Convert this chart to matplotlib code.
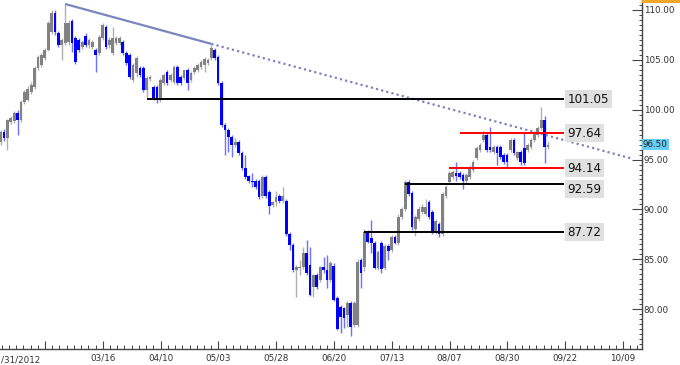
import numpy as np
import matplotlib.pyplot as plt
from matplotlib.patches import Rectangle
from matplotlib.transforms import blended_transform_factory

# daily candles, oldest first
opens = [96.8, 97.8, 97.2, 98.8, 98.9, 99.7, 99.0, 100.8, 101.0, 101.8, 102.3, 104.2, 104.5, 105.2, 106.0, 107.8, 109.7, 107.7, 106.5, 106.7,
         106.8, 108.9, 107.2, 107.0, 106.3, 107.4, 106.5, 106.3, 106.0, 105.7, 107.2, 108.3, 106.5, 105.7, 106.7, 106.7, 106.8, 105.7, 105.5, 103.0,
         103.7, 104.2, 104.2, 102.0, 103.1, 102.3, 102.3, 101.0, 102.7, 103.8, 103.0, 102.8, 104.3, 103.3, 103.2, 104.0, 103.0, 103.8, 104.0, 104.3,
         104.5, 104.7, 105.2, 106.0, 105.3, 102.7, 98.5, 98.0, 97.3, 96.5, 96.8, 95.7, 94.2, 93.3, 92.8, 92.8, 92.8, 91.3, 93.2, 91.7,
         90.4, 90.7, 91.3, 90.8, 90.8, 87.5, 86.4, 83.9, 84.1, 84.2, 85.6, 84.4, 82.2, 83.4, 82.9, 84.2, 83.9, 82.9, 84.3, 81.1,
         80.2, 80.1, 79.4, 80.6, 78.4, 78.4, 84.9, 84.2, 87.7, 87.1, 86.6, 84.1, 86.6, 84.1, 86.3, 85.9, 87.2, 86.6, 89.2, 90.0,
         92.7, 91.6, 88.0, 89.0, 89.7, 89.5, 90.7, 89.7, 87.8, 88.5, 87.5, 91.3, 92.7, 93.2, 93.7, 93.7, 93.5, 92.8, 93.2, 94.0,
         95.2, 96.0, 97.0, 97.5, 96.3, 95.8, 96.3, 96.3, 95.5, 95.5, 96.0, 97.0, 95.2, 95.8, 96.2, 96.0, 96.3, 97.0, 97.5, 98.2,
         99.0, 96.3]
highs = [98.0, 98.1, 99.1, 99.4, 99.9, 100.0, 101.0, 102.0, 102.4, 102.8, 104.4, 105.5, 105.7, 106.2, 108.9, 110.0, 110.0, 107.9, 107.2, 110.6,
         109.0, 109.1, 107.4, 107.2, 107.0, 107.7, 107.2, 107.0, 106.2, 107.5, 108.7, 108.5, 107.3, 108.3, 107.4, 107.4, 107.0, 105.9, 105.7, 104.7,
         105.4, 104.4, 104.4, 103.4, 103.5, 102.5, 102.5, 103.2, 103.7, 104.0, 103.7, 104.5, 104.5, 103.5, 104.0, 104.2, 103.9, 104.4, 104.7, 105.0,
         105.3, 105.2, 106.5, 106.2, 105.5, 102.9, 98.7, 98.2, 97.5, 97.2, 97.0, 95.9, 95.5, 93.5, 93.7, 93.0, 93.0, 93.4, 93.4, 91.9,
         90.8, 91.8, 91.5, 92.2, 91.0, 87.7, 86.6, 84.4, 84.9, 86.2, 86.9, 86.2, 83.5, 83.6, 84.3, 85.2, 85.4, 84.8, 84.6, 81.3,
         80.4, 80.2, 80.8, 80.8, 80.8, 85.0, 85.1, 88.0, 87.9, 88.9, 86.8, 85.9, 86.8, 86.5, 86.5, 87.4, 87.4, 89.5, 90.2, 92.9,
         92.9, 91.8, 89.4, 90.3, 90.5, 91.0, 90.9, 89.9, 89.0, 88.7, 91.7, 92.4, 93.9, 94.0, 94.8, 93.9, 93.7, 93.7, 94.5, 95.0,
         96.4, 96.7, 97.9, 97.7, 98.3, 96.5, 96.5, 96.5, 95.7, 95.7, 97.2, 97.2, 95.9, 96.0, 97.7, 96.7, 97.2, 97.9, 98.4, 100.3,
         99.4, 96.9]
lows = [96.5, 96.9, 96.0, 98.6, 98.7, 97.5, 98.8, 100.6, 100.9, 101.6, 102.1, 104.0, 104.3, 105.0, 105.9, 107.6, 107.5, 106.3, 105.0, 106.5,
        106.5, 105.8, 104.6, 105.8, 106.1, 106.3, 106.2, 106.1, 103.8, 105.5, 107.0, 106.1, 106.2, 105.5, 106.5, 106.5, 105.5, 104.5, 103.1, 102.8,
        103.3, 103.3, 101.8, 101.2, 102.9, 101.0, 100.7, 100.8, 102.5, 102.5, 102.8, 102.6, 102.5, 102.5, 103.0, 102.0, 102.8, 103.6, 103.8, 104.1,
        103.8, 104.5, 105.0, 105.0, 102.5, 98.3, 95.5, 95.8, 95.3, 96.3, 95.5, 94.0, 93.0, 92.6, 92.2, 92.0, 91.0, 91.1, 91.1, 89.5,
        90.2, 90.3, 90.6, 90.6, 87.3, 85.9, 83.7, 81.2, 83.4, 84.0, 83.4, 81.3, 81.2, 82.0, 82.7, 83.6, 82.1, 82.7, 80.8, 77.9,
        77.6, 78.1, 78.2, 77.3, 78.2, 78.2, 82.1, 83.8, 86.6, 85.6, 84.0, 83.9, 83.6, 83.9, 84.9, 85.7, 86.5, 86.4, 89.0, 89.8,
        91.3, 87.9, 87.3, 88.8, 89.5, 89.3, 89.0, 87.5, 87.5, 87.2, 87.3, 91.1, 92.5, 93.0, 92.8, 93.0, 92.0, 92.6, 93.0, 93.8,
        95.0, 95.8, 96.8, 95.8, 95.8, 95.6, 94.5, 95.1, 94.6, 94.2, 95.8, 95.5, 95.0, 94.5, 94.5, 95.8, 96.1, 96.8, 97.3, 98.0,
        94.7, 96.1]
closes = [97.8, 97.2, 99.0, 99.2, 99.7, 99.0, 100.8, 101.8, 102.1, 102.5, 104.2, 105.3, 105.5, 106.0, 108.7, 109.7, 107.8, 106.5, 107.0, 108.7,
          108.7, 106.7, 104.8, 106.0, 106.8, 106.5, 107.0, 106.8, 105.5, 107.3, 108.5, 106.3, 107.0, 107.2, 107.2, 107.2, 105.7, 104.7, 103.3, 104.5,
          105.2, 103.5, 102.0, 103.2, 103.3, 101.2, 101.0, 103.0, 103.5, 102.7, 103.5, 104.3, 102.7, 102.7, 104.0, 102.7, 103.7, 104.2, 104.5, 104.8,
          105.1, 105.0, 106.2, 105.2, 102.7, 98.5, 98.0, 97.3, 96.5, 96.8, 95.7, 94.2, 93.2, 92.8, 92.7, 92.2, 91.2, 93.2, 91.3, 90.3,
          90.7, 91.2, 90.8, 91.3, 87.5, 86.4, 83.9, 84.2, 84.2, 85.6, 83.6, 81.4, 83.4, 82.2, 84.2, 83.9, 82.9, 84.6, 80.9, 78.0,
          79.2, 79.1, 80.6, 78.2, 80.6, 84.7, 83.6, 87.7, 86.7, 86.6, 84.1, 85.7, 84.0, 86.3, 85.8, 87.2, 86.6, 89.2, 90.0, 92.7,
          91.5, 88.2, 89.2, 90.0, 90.2, 90.2, 89.2, 87.8, 88.8, 87.5, 91.5, 92.2, 93.7, 93.8, 93.3, 93.2, 92.8, 93.5, 94.3, 94.8,
          96.2, 96.5, 97.5, 96.0, 96.0, 96.3, 95.7, 95.3, 94.8, 94.8, 97.0, 95.7, 95.8, 94.8, 94.7, 96.5, 97.0, 97.7, 98.2, 99.0,
          96.3, 96.5]

# trend line: two touch points (bar index, price)
trend_x = [19, 62]
trend_y = [110.6, 106.6]

# horizontal levels and the bar where each one starts
levels = [101.05, 97.64, 94.14, 92.59, 87.72]
level_start = [43, 135, 132, 119, 107]
level_colors = ['black', 'red', 'red', 'black', 'black']

date_labels = ['', '03/16', '04/10', '05/03', '05/28', '06/20', '07/13', '08/07', '08/30', '09/22', '10/09']
last_price = 96.50

o = np.array(opens); h = np.array(highs); l = np.array(lows); c = np.array(closes)
n = len(c)
idx = np.arange(n)

W, H = 680, 365
fig = plt.figure(figsize=(W / 100, H / 100), dpi=100)
ax = fig.add_axes([0, 16 / H, 641.7 / W, 349 / H])

# 17 bars between date ticks, 57.8 px apart
s = 57.8 / 17
def px(x):
    return (x - 0.5) / s

up = c >= o
blue, blue_wick = '#0000ff', '#7070ff'
gray, gray_wick = '#828282', '#b0b0b0'
wick_cols = np.where(up, gray_wick, blue_wick)
body_cols = np.where(up, gray, blue)
ax.vlines(idx, l, h, colors=wick_cols, lw=1.0, zorder=2)
bottom = np.minimum(o, c)
height = np.maximum(np.abs(c - o), 0.12)
ax.bar(idx, height, bottom=bottom, width=2.8 / s, color=body_cols, lw=0, zorder=3)

# trend line, solid between touches then dotted projection
slope = (trend_y[1] - trend_y[0]) / (trend_x[1] - trend_x[0])
ax.plot(trend_x, trend_y, color='#7a85c0', lw=1.6, zorder=4, solid_capstyle='butt')
x_end = px(631.7)
ax.plot([trend_x[1], x_end], [trend_y[1], trend_y[1] + slope * (x_end - trend_x[1])],
        color='#7a85c0', lw=1.6, ls=(0, (1, 1.4)), zorder=4)

# levels with labels
x_lab = px(564)
for lv, st, col in zip(levels, level_start, level_colors):
    ax.plot([st, x_lab], [lv, lv], color=col, lw=1.4, zorder=5, solid_capstyle='butt')
    yl = lv - 0.55 if lv == 92.59 else lv
    ax.text(x_lab + 1.0, yl, f'{lv:.2f}', fontsize=8.6, color='#111111', va='center', ha='left', zorder=6,
            bbox=dict(boxstyle='square,pad=0.22', fc='#e0e0e0', ec='none'))

ax.set_xlim(px(0), px(641.7))
ax.set_ylim(76.0, 111.0)

for sp in ['top', 'left']:
    ax.spines[sp].set_visible(False)
for sp in ['right', 'bottom']:
    ax.spines[sp].set_color('#444444')
    ax.spines[sp].set_linewidth(1.0)

ax.yaxis.tick_right()
ax.set_yticks(np.arange(80, 111, 5))
ax.set_yticklabels([f'{v:.2f}' for v in np.arange(80, 111, 5)])
ax.set_yticks(np.arange(76.5, 111, 0.5), minor=True)
ax.tick_params(axis='y', which='major', direction='in', length=7, width=0.8, color='#444444',
               labelsize=6.3, labelcolor='#333333', pad=1.5)
ax.tick_params(axis='y', which='minor', direction='in', length=2.2, width=0.7, color='#444444')

major_px = [45 + 57.8 * k for k in range(11)]
ax.set_xticks([px(v) for v in major_px])
ax.set_xticklabels(date_labels)
ax.set_xticks([px(v) for v in np.arange(45 - 6 * 7.225, 641, 7.225)], minor=True)
ax.tick_params(axis='x', which='major', direction='in', length=5.8, width=0.8, color='#444444',
               labelsize=6.3, labelcolor='#333333', pad=3)
ax.tick_params(axis='x', which='minor', direction='in', length=2.9, width=0.7, color='#444444')

fig.text(1 / W, 1 - 360 / H, '/31/2012', fontsize=6.3, color='#333333', ha='left', va='center')

# last price tag on the axis
tr = blended_transform_factory(ax.transAxes, ax.transData)
ax.text(1.002, last_price, f'{last_price:.2f}', transform=tr, fontsize=6.3, color='#222222',
        va='center', ha='left', clip_on=False, zorder=7,
        bbox=dict(boxstyle='square,pad=0.15', fc='#66cdf5', ec='none'))

fig.patches.append(Rectangle((642 / W, 1 - 3 / H), 38 / W, 3 / H, transform=fig.transFigure,
                             color='#f4a52c', lw=0))

fig.savefig('out.png', dpi=100)
